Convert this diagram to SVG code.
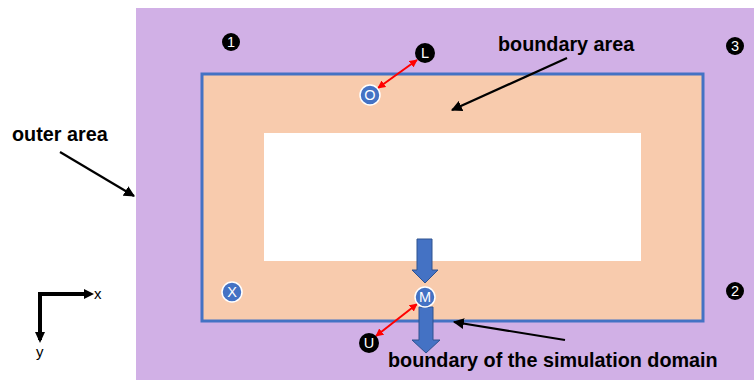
<svg xmlns="http://www.w3.org/2000/svg" width="754" height="380" viewBox="0 0 754 380">
<defs>
<style>
.lbl{font-family:"Liberation Sans",Arial,sans-serif;font-weight:bold;font-size:19.8px;fill:#000}
.num{font-family:"Liberation Sans",Arial,sans-serif;font-size:14.5px;fill:#fff;text-anchor:middle}
.blk{fill:#000}
.blu{fill:#4472C4;stroke:#fff;stroke-width:1.5}
.arr{stroke:#000;stroke-width:2.2;fill:none}
.red{stroke:#FF0000;stroke-width:2;fill:none}
.bigarr{fill:#4472C4;stroke:#2F528F;stroke-width:1}
.ax{stroke:#000;stroke-width:4;fill:none}
.axt{font-family:"Liberation Sans",Arial,sans-serif;font-size:15px;fill:#000}
</style>
<marker id="ah" viewBox="0 0 10 10" refX="9" refY="5" markerWidth="5" markerHeight="5" orient="auto-start-reverse"><path d="M0,0 L10,5 L0,10 z" fill="#000"/></marker>
<marker id="rh" viewBox="0 0 10 10" refX="9" refY="5" markerWidth="4" markerHeight="4" orient="auto-start-reverse"><path d="M0,0 L10,5 L0,10 z" fill="#FF0000"/></marker>
</defs>
<g id="outer-area"><rect x="136" y="8" width="618" height="372" fill="#D1B0E6"/></g>
<g id="boundary-area"><rect x="202" y="74" width="501" height="247" fill="#F8CBAD" stroke="#4472C4" stroke-width="3"/></g>
<g id="inner-area"><rect x="264" y="133" width="377" height="128" fill="#fff"/></g>

<g id="connectors">
<line class="arr" x1="60" y1="152" x2="134" y2="196" marker-end="url(#ah)"/>
<line class="arr" x1="567" y1="58" x2="452" y2="110" marker-end="url(#ah)"/>
<line class="arr" x1="565" y1="340" x2="454" y2="322" marker-end="url(#ah)"/>
<line class="red" x1="378" y1="88" x2="417" y2="60" marker-start="url(#rh)" marker-end="url(#rh)"/>
<line class="red" x1="417" y1="304" x2="376" y2="336" marker-start="url(#rh)" marker-end="url(#rh)"/>
<path class="bigarr" d="M417,239 H432 V270 H438 L425,283 L412,270 H417 Z"/>
<path class="bigarr" d="M419,307 H433 V340 H440 L426,353 L412,340 H419 Z"/>
<path class="ax" d="M40,340 V294 H86"/>
<path d="M84,289 L94,294 L84,299 Z" fill="#000"/>
<path d="M35,332 L40,343 L45,332 Z" fill="#000"/>
</g>

<g id="n1"><circle class="blk" cx="231" cy="42" r="9"/><text class="num" x="231" y="47">1</text></g>
<g id="n2"><circle class="blk" cx="735" cy="291" r="9"/><text class="num" x="735" y="296">2</text></g>
<g id="n3"><circle class="blk" cx="735" cy="46" r="9"/><text class="num" x="735" y="51">3</text></g>
<g id="nL"><circle class="blk" cx="425" cy="53" r="10"/><text class="num" x="425" y="58">L</text></g>
<g id="nO"><circle class="blu" cx="370" cy="95" r="10"/><text class="num" x="370" y="100">O</text></g>
<g id="nX"><circle class="blu" cx="232" cy="292" r="10"/><text class="num" x="232" y="297">X</text></g>
<g id="nM"><circle class="blu" cx="425" cy="297" r="10"/><text class="num" x="425" y="302">M</text></g>
<g id="nU"><circle class="blk" cx="369" cy="343" r="10"/><text class="num" x="369" y="348">U</text></g>

<g id="labels">
<text class="lbl" x="498" y="51">boundary area</text>
<text class="lbl" x="12" y="141">outer area</text>
<text class="lbl" x="388" y="367">boundary of the simulation domain</text>
<text class="axt" x="94" y="299">x</text>
<text class="axt" x="36" y="357">y</text>
</g>
</svg>
